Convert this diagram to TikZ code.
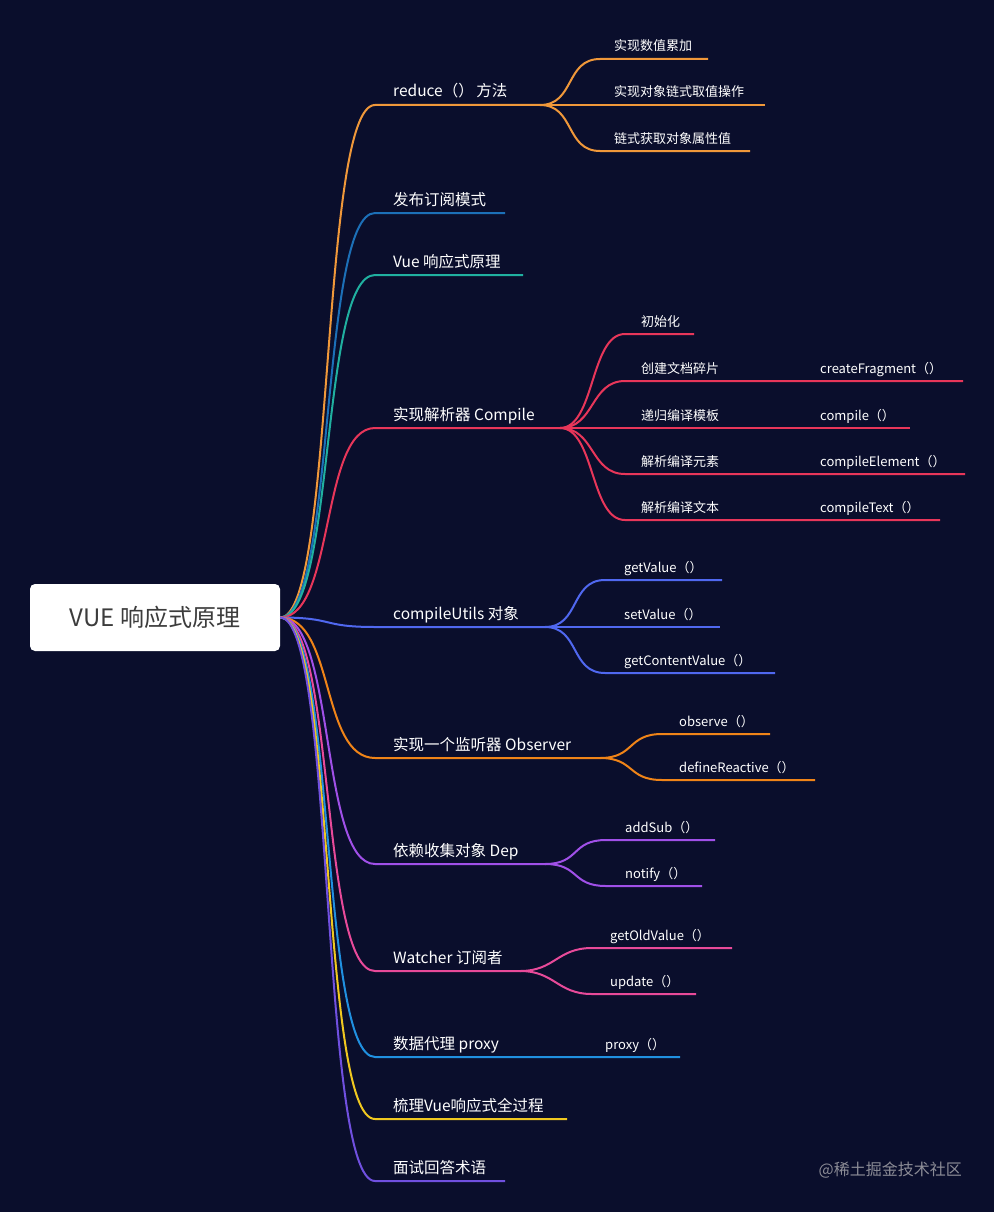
\documentclass[tikz,border=0pt]{standalone}
\usepackage{fontspec}
\newfontfamily\cjk{Noto Sans CJK SC}
\definecolor{bg}{HTML}{0A0E2C}
\definecolor{cA}{HTML}{F0983A}
\definecolor{cB}{HTML}{1C70B8}
\definecolor{cC}{HTML}{20B0A0}
\definecolor{cD}{HTML}{E8365A}
\definecolor{cE}{HTML}{5068F0}
\definecolor{cF}{HTML}{F08418}
\definecolor{cG}{HTML}{A050E8}
\definecolor{cH}{HTML}{E84A9A}
\definecolor{cI}{HTML}{2090E0}
\definecolor{cJ}{HTML}{F0C820}
\definecolor{cK}{HTML}{7050E0}
\tikzset{lw/.style={line width=2pt},
 mtext/.style={font=\cjk\fontsize{15.5}{18}\selectfont,text=white,anchor=base west,inner sep=0pt},
 ctext/.style={font=\cjk\fontsize{13}{16}\selectfont,text=white,anchor=base west,inner sep=0pt}}
\newcommand\mbranch[5]{%
 \coordinate (#1s) at (375,#2); \coordinate (#1e) at (#3,#2);
 \draw[#4,lw] (root.east) .. controls +(55,0) and +(-55,0) .. (#1s) -- (#1e);
 \node[mtext] (#1t) at (393,{#2-8}) {#5};}
\newcommand\cbranch[8]{% name parent-start y startx endx color text textx
 \coordinate (#1s) at (#4,#3); \coordinate (#1e) at (#5,#3);
 \draw[#6,lw] (#2) .. controls +(35,0) and +(-35,0) .. (#1s) -- (#1e);
 \node[ctext] (#1t) at (#8,{#3-8}) {#7};}
\begin{document}
\begin{tikzpicture}[x=1pt,y=-1pt]
\fill[bg] (0,0) rectangle (994,1212);
\useasboundingbox (0,0) rectangle (994,1212);
\node[fill=white,rounded corners=5pt,minimum width=250pt,minimum height=67pt,inner sep=0pt,
 font=\cjk\fontsize{24}{28}\selectfont,text={rgb,255:red,60;green,60;blue,60}] (root) at (155,617.5) {VUE 响应式原理};
% main branches
\mbranch{a}{105}{540}{cA}{reduce（）\,方法}
\mbranch{b}{213}{505}{cB}{发布订阅模式}
\mbranch{c}{275}{523}{cC}{Vue 响应式原理}
\mbranch{d}{428}{560}{cD}{实现解析器 Compile}
\mbranch{e}{627}{545}{cE}{compileUtils 对象}
\mbranch{f}{758}{600}{cF}{实现一个监听器 Observer}
\mbranch{g}{864}{545}{cG}{依赖收集对象 Dep}
\mbranch{h}{971}{520}{cH}{Watcher 订阅者}
\mbranch{i}{1057}{680}{cI}{数据代理 proxy}
\mbranch{j}{1119}{567}{cJ}{梳理Vue响应式全过程}
\mbranch{k}{1181}{505}{cK}{面试回答术语}
\node[ctext] (it2) at (605,1049) {proxy（）};
% reduce children
\cbranch{a1}{ae}{59}{600}{708}{cA}{实现数值累加}{614}
\cbranch{a2}{ae}{105}{600}{765}{cA}{实现对象链式取值操作}{614}
\cbranch{a3}{ae}{151}{600}{750}{cA}{链式获取对象属性值}{614}
% compile children
\cbranch{d1}{de}{334}{625}{694}{cD}{初始化}{641}
\cbranch{d2}{de}{381}{625}{963}{cD}{创建文档碎片}{641}
\cbranch{d3}{de}{428}{625}{910}{cD}{递归编译模板}{641}
\cbranch{d4}{de}{474}{625}{965}{cD}{解析编译元素}{641}
\cbranch{d5}{de}{520}{625}{940}{cD}{解析编译文本}{641}
\node[ctext] (d2u) at (820,373) {createFragment（）};
\node[ctext] (d3u) at (820,420) {compile（）};
\node[ctext] (d4u) at (820,466) {compileElement（）};
\node[ctext] (d5u) at (820,512) {compileText（）};
% compileUtils
\cbranch{e1}{ee}{580}{605}{722}{cE}{getValue（）}{624}
\cbranch{e2}{ee}{627}{605}{720}{cE}{setValue（）}{624}
\cbranch{e3}{ee}{673}{605}{775}{cE}{getContentValue（）}{624}
% observer
\cbranch{f1}{fe}{734}{662}{770}{cF}{observe（）}{679}
\cbranch{f2}{fe}{780}{662}{815}{cF}{defineReactive（）}{679}
% dep
\cbranch{g1}{ge}{840}{606}{715}{cG}{addSub（）}{625}
\cbranch{g2}{ge}{886}{606}{702}{cG}{notify（）}{625}
% watcher
\cbranch{h1}{he}{948}{592}{732}{cH}{getOldValue（）}{610}
\cbranch{h2}{he}{994}{592}{696}{cH}{update（）}{610}
\node[font=\cjk\fontsize{16}{19}\selectfont,text={rgb,255:red,140;green,140;blue,150},anchor=base east,inner sep=0pt] (wm) at (962,1175) {@稀土掘金技术社区};
\end{tikzpicture}
\end{document}
